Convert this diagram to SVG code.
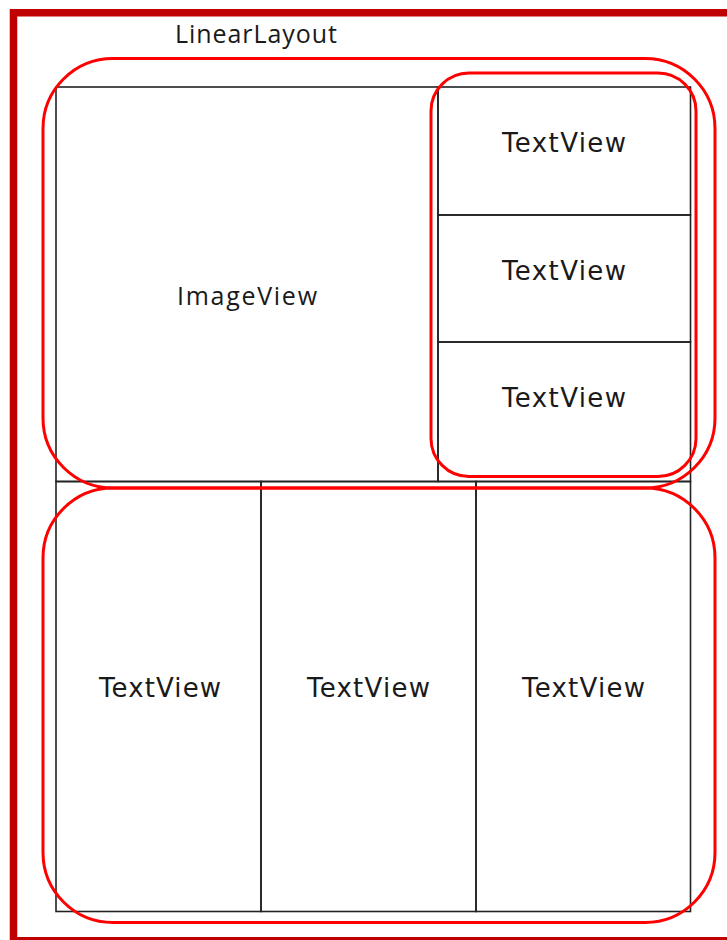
<svg xmlns="http://www.w3.org/2000/svg" width="727" height="940" viewBox="0 0 727 940">
<style>
.frame{fill:none;stroke:#C00000;stroke-width:7.5}
.cell{fill:none;stroke:#222;stroke-width:1.6}
.grp{fill:none;stroke:#FF0000;stroke-width:3}
.lbl{font-family:"Open Sans","Noto Sans",sans-serif;font-size:25px;fill:#1a1a1a;text-anchor:middle}
.tv{font-family:"DejaVu Sans","Liberation Sans",sans-serif;font-size:26px;fill:#1a1a1a;text-anchor:middle}
</style>
<rect width="727" height="940" fill="#fff"/>
<rect class="frame" x="13.5" y="12.75" width="730" height="928"/>
<text class="lbl" x="256" y="43" textLength="162" lengthAdjust="spacing">LinearLayout</text>
<g id="imageview"><rect class="cell" x="56" y="87" width="382" height="394.5"/><text class="lbl" x="247" y="305" textLength="140" lengthAdjust="spacing">ImageView</text></g>
<g id="textview1"><rect class="cell" x="438" y="87" width="252.5" height="128"/><text class="tv" x="564" y="152" textLength="124" lengthAdjust="spacing">TextView</text></g>
<g id="textview2"><rect class="cell" x="438" y="215" width="252.5" height="127"/><text class="tv" x="564" y="280" textLength="124" lengthAdjust="spacing">TextView</text></g>
<g id="textview3"><rect class="cell" x="438" y="342" width="252.5" height="139.5"/><text class="tv" x="564" y="407" textLength="124" lengthAdjust="spacing">TextView</text></g>
<g id="textview4"><rect class="cell" x="56" y="481.5" width="205" height="430"/><text class="tv" x="160" y="697" textLength="122" lengthAdjust="spacing">TextView</text></g>
<g id="textview5"><rect class="cell" x="261" y="481.5" width="215" height="430"/><text class="tv" x="368.5" y="697" textLength="123" lengthAdjust="spacing">TextView</text></g>
<g id="textview6"><rect class="cell" x="476" y="481.5" width="214.5" height="430"/><text class="tv" x="583.5" y="697" textLength="123" lengthAdjust="spacing">TextView</text></g>
<g id="groups">
<rect class="grp" x="43" y="58.5" width="672" height="429.5" rx="70"/>
<rect class="grp" x="431" y="73" width="265" height="403.5" rx="38"/>
<rect class="grp" x="43" y="488" width="672" height="434.5" rx="70"/>
</g>
</svg>
